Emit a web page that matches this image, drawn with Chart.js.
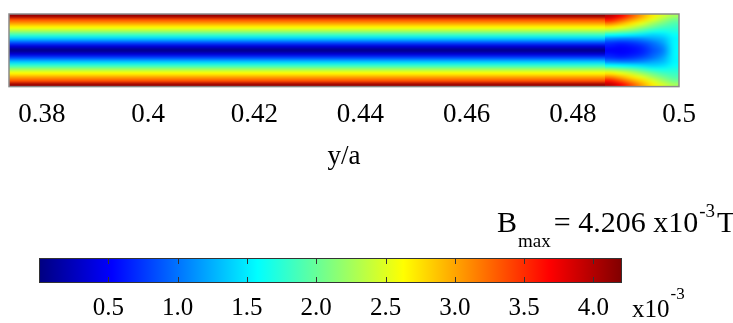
<!DOCTYPE html>
<html>
<head>
<meta charset="utf-8">
<script src="https://cdn.jsdelivr.net/npm/chart.js@4.4.1/dist/chart.umd.min.js"></script>
<style>
  html, body { margin: 0; padding: 0; background: #fff; }
  #wrap { position: relative; width: 733px; height: 323px; overflow: hidden; }
  #fieldChart { position: absolute; left: 0; top: 0; }
  #barChart { position: absolute; left: 0; top: 195px; }
</style>
</head>
<body>
<div id="wrap">
  <canvas id="fieldChart" width="733" height="172"></canvas>
  <canvas id="barChart" width="733" height="138"></canvas>
</div>
<script>
// x axis (y/a)
const xTicks = [0.38, 0.40, 0.42, 0.44, 0.46, 0.48, 0.50];
const xMin = 0.3738;
const xMax = 0.5;
const stripEnd = 0.486;

// |B| across the strip height, top edge to bottom edge (x10^-3 T)
const stripProfile = [4.1, 3.35, 3.0, 2.65, 2.25, 1.8, 1.35, 0.85, 0.35, 0.05,
                      0.35, 0.85, 1.35, 1.8, 2.25, 2.65, 3.0, 3.35, 4.1];

// end region, cell centres along y/a
const endCols = [0.487, 0.489, 0.491, 0.493, 0.495, 0.497, 0.499];
// |B| in the end region, rows top to bottom (x10^-3 T)
const endField = [
  [3.95, 3.7, 3.35, 3.0, 2.7, 2.45, 2.25],
  [3.6, 3.35, 3.05, 2.8, 2.5, 2.25, 2.05],
  [3.15, 2.95, 2.75, 2.5, 2.25, 2.05, 1.9],
  [2.7, 2.55, 2.4, 2.2, 2.0, 1.85, 1.8],
  [2.2, 2.1, 2.0, 1.85, 1.7, 1.65, 1.7],
  [1.6, 1.55, 1.5, 1.45, 1.4, 1.45, 1.6],
  [1.1, 1.05, 1.05, 1.1, 1.2, 1.3, 1.55],
  [0.75, 0.7, 0.75, 0.85, 1.0, 1.2, 1.55],
  [0.6, 0.55, 0.6, 0.7, 0.9, 1.1, 1.55],
  [0.5, 0.5, 0.55, 0.65, 0.85, 1.05, 1.55],
  [0.6, 0.55, 0.6, 0.7, 0.9, 1.1, 1.55],
  [0.75, 0.7, 0.75, 0.85, 1.0, 1.2, 1.55],
  [1.1, 1.05, 1.05, 1.1, 1.2, 1.3, 1.55],
  [1.6, 1.55, 1.5, 1.45, 1.4, 1.45, 1.6],
  [2.2, 2.1, 2.0, 1.85, 1.7, 1.65, 1.7],
  [2.7, 2.55, 2.4, 2.2, 2.0, 1.85, 1.8],
  [3.15, 2.95, 2.75, 2.5, 2.25, 2.05, 1.9],
  [3.6, 3.35, 3.05, 2.8, 2.5, 2.25, 2.05],
  [3.95, 3.7, 3.35, 3.0, 2.7, 2.45, 2.25]
];

// colour bar (x10^-3 T)
const barMin = 0;
const barMax = 4.206;
const barTicks = [0.5, 1.0, 1.5, 2.0, 2.5, 3.0, 3.5, 4.0];

// jet colour map anchors
const jetStops = [
  [0, [0, 0, 128]],
  [0.125, [0, 0, 255]],
  [0.375, [0, 255, 255]],
  [0.625, [255, 255, 0]],
  [0.875, [255, 0, 0]],
  [1, [128, 0, 0]]
];

const serif = '"Liberation Serif", "Times New Roman", serif';

function jet(t) {
  t = Math.max(0, Math.min(1, t));
  for (let i = 1; i < jetStops.length; i++) {
    const [t1, c1] = jetStops[i];
    const [t0, c0] = jetStops[i - 1];
    if (t <= t1) {
      const f = (t - t0) / (t1 - t0);
      return c0.map((c, k) => Math.round(c + (c1[k] - c) * f));
    }
  }
  return jetStops[jetStops.length - 1][1];
}

// small bitmap, one pixel per cell, stretched by drawImage
function fieldImage(grid) {
  const rows = grid.length, cols = grid[0].length;
  const c = document.createElement('canvas');
  c.width = cols;
  c.height = rows;
  const g = c.getContext('2d');
  const img = g.createImageData(cols, rows);
  grid.forEach((row, r) => row.forEach((v, k) => {
    const rgb = jet((v - barMin) / (barMax - barMin));
    const i = (r * cols + k) * 4;
    img.data[i] = rgb[0];
    img.data[i + 1] = rgb[1];
    img.data[i + 2] = rgb[2];
    img.data[i + 3] = 255;
  }));
  g.putImageData(img, 0, 0);
  return c;
}

const fieldPlugin = {
  id: 'field',
  beforeDatasetsDraw(chart) {
    const { ctx, chartArea: a, scales: { x, y } } = chart;
    const top = y.getPixelForValue(1), bottom = y.getPixelForValue(0);
    ctx.save();
    ctx.beginPath();
    ctx.rect(a.left, a.top, a.width, a.height);
    ctx.clip();
    ctx.imageSmoothingEnabled = true;
    ctx.imageSmoothingQuality = 'high';

    const strip = fieldImage(stripProfile.map(v => [v]));
    const x0 = x.getPixelForValue(xMin), x1 = x.getPixelForValue(stripEnd);
    ctx.drawImage(strip, x0, top, x1 - x0, bottom - top);

    const half = (endCols[1] - endCols[0]) / 2;
    const end = fieldImage(endField);
    const e0 = x.getPixelForValue(endCols[0] - half);
    const e1 = x.getPixelForValue(endCols[endCols.length - 1] + half);
    ctx.drawImage(end, e0, top, e1 - e0, bottom - top);
    ctx.restore();

    ctx.save();
    ctx.strokeStyle = '#8a8a8a';
    ctx.lineWidth = 1.5;
    ctx.strokeRect(a.left, a.top, a.width, a.height);
    ctx.restore();
  }
};

const colorbarPlugin = {
  id: 'colorbar',
  beforeDatasetsDraw(chart) {
    const { ctx, scales: { x, y } } = chart;
    const left = x.getPixelForValue(barMin), right = x.getPixelForValue(barMax);
    const top = y.getPixelForValue(1), bottom = y.getPixelForValue(0);
    const g = ctx.createLinearGradient(left, 0, right, 0);
    jetStops.forEach(([t, c]) => g.addColorStop(t, 'rgb(' + c.join(',') + ')'));
    ctx.save();
    ctx.fillStyle = g;
    ctx.fillRect(left, top, right - left, bottom - top);
    ctx.strokeStyle = '#333';
    ctx.lineWidth = 1;
    ctx.strokeRect(left + 0.5, top + 0.5, right - left - 1, bottom - top - 1);
    ctx.beginPath();
    barTicks.forEach(v => {
      const px = Math.round(x.getPixelForValue(v)) + 0.5;
      ctx.moveTo(px, top);
      ctx.lineTo(px, top + 6);
      ctx.moveTo(px, bottom);
      ctx.lineTo(px, bottom - 6);
    });
    ctx.stroke();

    // exponent next to the tick labels
    ctx.fillStyle = '#000';
    ctx.textBaseline = 'alphabetic';
    ctx.font = '25px ' + serif;
    ctx.fillText('x10', 632, 122);
    const w = ctx.measureText('x10').width;
    ctx.font = '17px ' + serif;
    ctx.fillText('-3', 632 + w + 1, 104);

    // maximum field label
    let cx = 497;
    ctx.font = '30px ' + serif;
    ctx.fillText('B', cx, 37);
    cx += ctx.measureText('B').width + 1;
    ctx.font = '19px ' + serif;
    ctx.fillText('max', cx, 52);
    cx += ctx.measureText('max').width + 3;
    ctx.font = '30px ' + serif;
    ctx.fillText('= 4.206 x10', cx, 37);
    cx += ctx.measureText('= 4.206 x10').width + 1;
    ctx.font = '19px ' + serif;
    ctx.fillText('-3', cx, 22);
    cx += ctx.measureText('-3').width + 2;
    ctx.font = '30px ' + serif;
    ctx.fillText('T', cx, 37);
    ctx.restore();
  }
};

new Chart(document.getElementById('fieldChart'), {
  type: 'scatter',
  data: { datasets: [{ data: [] }] },
  options: {
    responsive: false,
    animation: false,
    layout: { padding: { left: 9, right: 54, top: 14, bottom: 0 } },
    plugins: {
      legend: { display: false },
      tooltip: { enabled: false },
      title: {
        display: true,
        position: 'bottom',
        text: 'y/a',
        color: '#000',
        padding: { top: 0, bottom: 2 },
        font: { family: serif, size: 27, weight: 'normal', lineHeight: 1 }
      }
    },
    scales: {
      x: {
        type: 'linear',
        min: xMin,
        max: xMax,
        afterBuildTicks: scale => { scale.ticks = xTicks.map(v => ({ value: v })); },
        grid: { display: false, drawTicks: false },
        border: { display: false },
        ticks: {
          color: '#000',
          padding: 12,
          maxRotation: 0,
          font: { family: serif, size: 27 },
          callback: v => String(v)
        }
      },
      y: { type: 'linear', min: 0, max: 1, display: false }
    }
  },
  plugins: [fieldPlugin]
});

// chart area runs from the canvas top to the bar bottom; the bar fills y 0..1
new Chart(document.getElementById('barChart'), {
  type: 'scatter',
  data: { datasets: [{ data: [] }] },
  options: {
    responsive: false,
    animation: false,
    layout: { padding: { left: 39, right: 111, top: 0, bottom: 0 } },
    plugins: { legend: { display: false }, tooltip: { enabled: false } },
    scales: {
      x: {
        type: 'linear',
        min: barMin,
        max: barMax,
        afterBuildTicks: scale => { scale.ticks = barTicks.map(v => ({ value: v })); },
        grid: { display: false, drawTicks: false },
        border: { display: false },
        ticks: {
          color: '#000',
          padding: 10,
          maxRotation: 0,
          font: { family: serif, size: 25 },
          callback: v => v.toFixed(1)
        }
      },
      y: { type: 'linear', min: 0, max: 88 / 25, display: false }
    }
  },
  plugins: [colorbarPlugin]
});
</script>
</body>
</html>
